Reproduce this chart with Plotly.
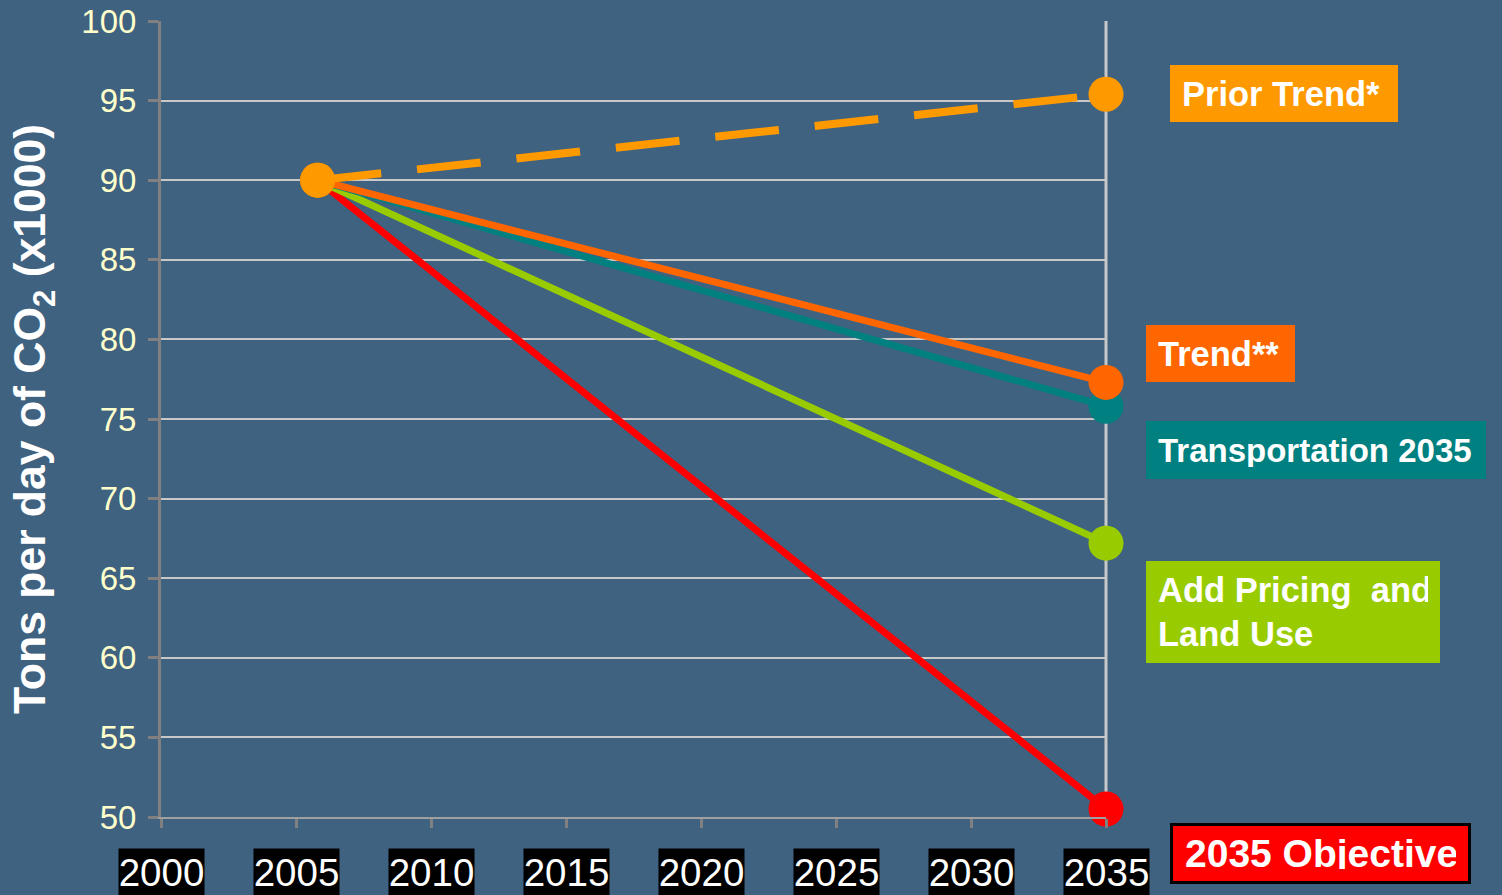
import plotly.graph_objects as go

# ---- data ----
years = [2005.8, 2035]
prior_trend = [90.0, 95.4]
trend = [90.0, 77.3]
transportation = [90.0, 75.8]
pricing_land = [90.0, 67.2]
objective = [90.0, 50.5]

x_ticks = [2000, 2005, 2010, 2015, 2020, 2025, 2030, 2035]
y_ticks = [50, 55, 60, 65, 70, 75, 80, 85, 90, 95, 100]

BG = "#3F6281"
FONT = "Liberation Sans, Arial, sans-serif"

W, H = 1502, 895
L, R, T, B = 161, 1106, 21, 817  # plot area in pixels


def px(xp):
    return (xp - L) / (R - L)


def py(yp):
    return (B - yp) / (B - T)


fig = go.Figure()

series = [
    ("2035 Objective", objective, "#FF0000", "solid", 7),
    ("Add Pricing and Land Use", pricing_land, "#99CC00", "solid", 7),
    ("Transportation 2035", transportation, "#008080", "solid", 7),
    ("Trend**", trend, "#FF6600", "solid", 7),
    ("Prior Trend*", prior_trend, "#FF9900", "64px,36px", 8),
]
for name, vals, col, dash, lw in series:
    fig.add_trace(go.Scatter(
        x=years, y=vals, name=name, mode="lines+markers",
        line=dict(color=col, width=lw, dash=dash),
        marker=dict(color=col, size=35, line=dict(width=0)),
        showlegend=False, cliponaxis=False,
    ))

# right border line
fig.add_shape(type="line", xref="paper", yref="paper", x0=1, x1=1, y0=0, y1=1,
              line=dict(color="#C8C8C8", width=3), layer="below")

# x tick labels with black boxes
for yr in x_ticks:
    fig.add_annotation(
        x=yr, xref="x", y=py(848), yref="paper", xanchor="center", yanchor="top",
        text=str(yr), showarrow=False, bgcolor="#000000", borderpad=0,
        width=85, height=46, valign="middle",
        font=dict(family=FONT, size=38.5, color="#FFFFFF"),
    )

# legend-like labels: text, left, top, width, height, colour, font size, border
labels = [
    ("Prior Trend*", 1170, 65, 228, 57, "#FF9900", 34.5, None),
    ("Trend**", 1146, 325, 149, 57, "#FF6600", 34.5, None),
    ("Transportation 2035", 1146, 421, 340, 58, "#008080", 33, None),
    ("Add Pricing  and<br>Land Use", 1146, 561, 294, 102, "#99CC00", 34.5, None),
    ("2035 Objective", 1170, 823, 301, 61, "#FF0000", 39, "#000000"),
]
PAD = 12
for text, x0, y0, w, h, col, fs, border in labels:
    bw = 3 if border else 0
    fig.add_annotation(
        x=px(x0), xref="paper", y=py(y0), yref="paper",
        xanchor="left", yanchor="top", text="<b>" + text + "</b>",
        showarrow=False, bgcolor=col, borderpad=PAD,
        bordercolor=border if border else col, borderwidth=bw,
        width=w - 2 * PAD - 2 * bw,
        height=h - 2 * PAD - 2 * bw,
        align="left", valign="middle",
        font=dict(family=FONT, size=fs, color="#FFFFFF"),
    )

fig.update_layout(
    width=W, height=H,
    margin=dict(l=L, r=W - R, t=T, b=H - B, pad=0, autoexpand=False),
    paper_bgcolor=BG, plot_bgcolor=BG,
    font=dict(family=FONT),
    xaxis=dict(
        range=[2000, 2035], tickvals=x_ticks, showticklabels=False,
        showgrid=False, zeroline=False, automargin=False,
        showline=True, linecolor="#A0A0A0", linewidth=2,
        ticks="outside", ticklen=9, tickwidth=3, tickcolor="#808080",
    ),
    yaxis=dict(
        range=[50, 100], tickvals=y_ticks, automargin=False,
        showgrid=True, gridcolor="#C8C8C8", gridwidth=2, zeroline=False,
        showline=True, linecolor="#808080", linewidth=3,
        ticks="outside", ticklen=10, tickwidth=3, tickcolor="#808080",
        ticklabelstandoff=5,
        tickfont=dict(family=FONT, size=33, color="#FFFFCC"),
        title=dict(text="<b>Tons per day of CO<sub>2</sub> (x1000)</b>",
                   font=dict(family=FONT, size=44.5, color="#FFFFFF"), standoff=22),
    ),
)

fig.write_html(
    "out.html",
    config={"displayModeBar": False},
    post_script="document.body.style.margin='0';document.body.style.background='" + BG + "';",
)
